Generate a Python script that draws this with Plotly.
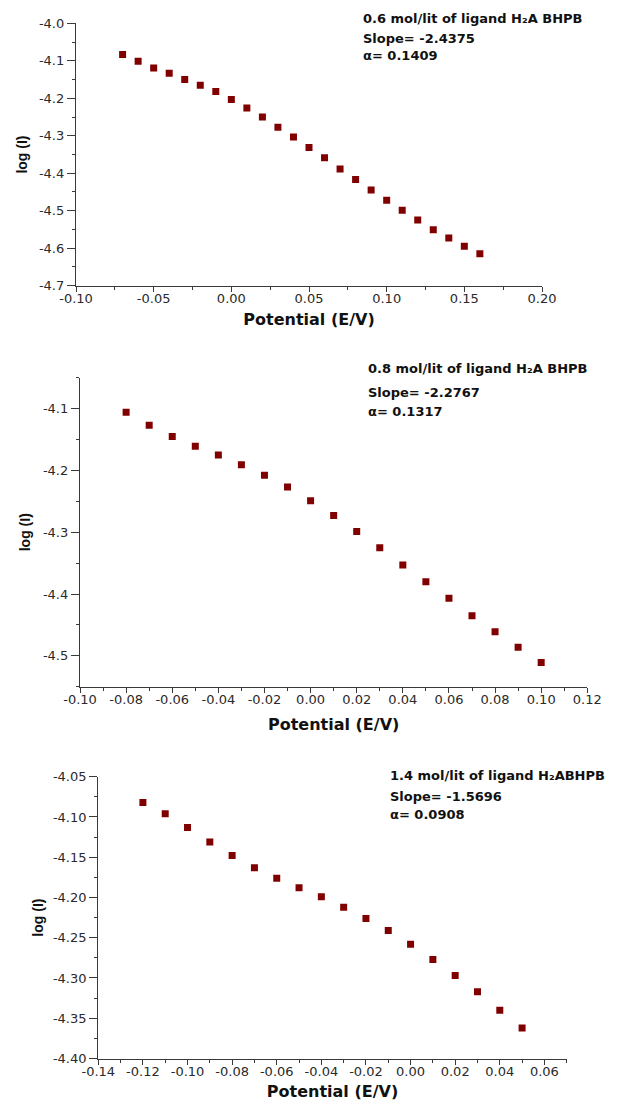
import plotly.graph_objects as go

W, H = 617, 1101
ML, MR, MT, MB = 10, 10, 10, 10

# ---------------- data ----------------
pot_06 = [-0.07, -0.06, -0.05, -0.04, -0.03, -0.02, -0.01, 0.00, 0.01, 0.02, 0.03, 0.04,
          0.05, 0.06, 0.07, 0.08, 0.09, 0.10, 0.11, 0.12, 0.13, 0.14, 0.15, 0.16]
logi_06 = [-4.083, -4.101, -4.119, -4.133, -4.150, -4.165, -4.182, -4.203, -4.226, -4.250,
           -4.277, -4.303, -4.331, -4.359, -4.389, -4.417, -4.445, -4.472, -4.499, -4.525,
           -4.551, -4.573, -4.595, -4.615]

pot_08 = [-0.08, -0.07, -0.06, -0.05, -0.04, -0.03, -0.02, -0.01, 0.00, 0.01, 0.02, 0.03,
          0.04, 0.05, 0.06, 0.07, 0.08, 0.09, 0.10]
logi_08 = [-4.106, -4.127, -4.145, -4.161, -4.175, -4.191, -4.208, -4.227, -4.249, -4.273,
           -4.299, -4.325, -4.353, -4.380, -4.407, -4.435, -4.461, -4.486, -4.511]

pot_14 = [-0.12, -0.11, -0.10, -0.09, -0.08, -0.07, -0.06, -0.05, -0.04, -0.03, -0.02, -0.01,
          0.00, 0.01, 0.02, 0.03, 0.04, 0.05]
logi_14 = [-4.082, -4.096, -4.113, -4.131, -4.148, -4.163, -4.176, -4.188, -4.199, -4.212,
           -4.226, -4.241, -4.258, -4.277, -4.297, -4.317, -4.340, -4.362]

labels = [
    ("0.6 mol/lit of ligand H₂A BHPB", "Slope= -2.4375", "α= 0.1409"),
    ("0.8 mol/lit of ligand H₂A BHPB", "Slope= -2.2767", "α= 0.1317"),
    ("1.4 mol/lit of ligand H₂ABHPB", "Slope= -1.5696", "α= 0.0908"),
]

x_ticks_1 = [-0.10, -0.05, 0.00, 0.05, 0.10, 0.15, 0.20]
x_text_1 = ["-0.10", "-0.05", "0.00", "0.05", "0.10", "0.15", "0.20"]
y_ticks_1 = [-4.0, -4.1, -4.2, -4.3, -4.4, -4.5, -4.6, -4.7]
y_text_1 = ["-4.0", "-4.1", "-4.2", "-4.3", "-4.4", "-4.5", "-4.6", "-4.7"]

x_ticks_2 = [-0.10, -0.08, -0.06, -0.04, -0.02, 0.00, 0.02, 0.04, 0.06, 0.08, 0.10, 0.12]
x_text_2 = ["-0.10", "-0.08", "-0.06", "-0.04", "-0.02", "0.00", "0.02", "0.04", "0.06",
            "0.08", "0.10", "0.12"]
y_ticks_2 = [-4.1, -4.2, -4.3, -4.4, -4.5]
y_text_2 = ["-4.1", "-4.2", "-4.3", "-4.4", "-4.5"]

x_ticks_3 = [-0.14, -0.12, -0.10, -0.08, -0.06, -0.04, -0.02, 0.00, 0.02, 0.04, 0.06]
x_text_3 = ["-0.14", "-0.12", "-0.10", "-0.08", "-0.06", "-0.04", "-0.02", "0.00", "0.02",
            "0.04", "0.06"]
y_ticks_3 = [-4.05, -4.10, -4.15, -4.20, -4.25, -4.30, -4.35, -4.40]
y_text_3 = ["-4.05", "-4.10", "-4.15", "-4.20", "-4.25", "-4.30", "-4.35", "-4.40"]

# ---------------- layout geometry (pixels) ----------------
panels = [
    dict(x=pot_06, y=logi_06, xr=[-0.10, 0.20], yr=[-4.7, -4.0], px=(76, 542), py=(23.3, 285.7),
         xt=(x_ticks_1, x_text_1, 0.025), yt=(y_ticks_1, y_text_1, 0.05),
         xts=8, yts=7, ann_x=361, ann_y=(18.3, 38.3, 55.0)),
    dict(x=pot_08, y=logi_08, xr=[-0.10, 0.12], yr=[-4.55, -4.05], px=(80, 587.3), py=(377.7, 686.7),
         xt=(x_ticks_2, x_text_2, 0.01), yt=(y_ticks_2, y_text_2, 0.05),
         xts=12, yts=8, ann_x=366, ann_y=(368.3, 392.3, 411.7)),
    dict(x=pot_14, y=logi_14, xr=[-0.14, 0.07], yr=[-4.40, -4.05], px=(98.3, 566.7), py=(776.7, 1058.5),
         xt=(x_ticks_3, x_text_3, 0.01), yt=(y_ticks_3, y_text_3, 0.025),
         xts=8, yts=6, ann_x=388, ann_y=(775.0, 796.0, 814.3)),
]

FONT = "DejaVu Sans, Arial, sans-serif"
FONT_Y = "Liberation Sans, Arial, sans-serif"
MARK = "#800000"
AX = "#3a3a3a"

PW, PH = W - ML - MR, H - MT - MB


def fx(px):
    return (px - ML) / PW


def fy(py):
    return 1 - (py - MT) / PH


fig = go.Figure()
layout = dict(
    width=W, height=H, margin=dict(l=ML, r=MR, t=MT, b=MB),
    paper_bgcolor="white", plot_bgcolor="white", showlegend=False,
    font=dict(family=FONT, size=12, color="#222222"),
)
annotations = []

for i, p in enumerate(panels, start=1):
    xa = "x" if i == 1 else f"x{i}"
    ya = "y" if i == 1 else f"y{i}"
    fig.add_trace(go.Scatter(
        x=p["x"], y=p["y"], mode="markers", xaxis=xa, yaxis=ya,
        marker=dict(symbol="square", size=7, color=MARK, line=dict(width=0)),
    ))
    xkey = "xaxis" if i == 1 else f"xaxis{i}"
    ykey = "yaxis" if i == 1 else f"yaxis{i}"
    xtv, xtt, xminor = p["xt"]
    ytv, ytt, yminor = p["yt"]
    layout[xkey] = dict(
        domain=[fx(p["px"][0]), fx(p["px"][1])], anchor=ya, range=p["xr"],
        showgrid=False, zeroline=False, automargin=False,
        showline=True, linecolor=AX, linewidth=1.3,
        ticks="outside", ticklen=5, tickwidth=1.2, tickcolor=AX,
        tickvals=xtv, ticktext=xtt, tickfont=dict(size=13, color="#2a2a2a", family=FONT),
        ticklabelstandoff=-4,
        minor=dict(ticks="outside", ticklen=3, dtick=xminor, tick0=0, tickcolor=AX, showgrid=False),
        title=dict(text="<b>Potential (E/V)</b>", font=dict(size=16, color="#111111", family=FONT),
                   standoff=p["xts"]),
    )
    layout[ykey] = dict(
        domain=[fy(p["py"][1]), fy(p["py"][0])], anchor=xa, range=p["yr"],
        showgrid=False, zeroline=False, automargin=False,
        showline=True, linecolor=AX, linewidth=1.3,
        ticks="outside", ticklen=8, tickwidth=1.2, tickcolor=AX,
        tickvals=ytv, ticktext=ytt, tickfont=dict(size=13, color="#2a2a2a", family=FONT),
        ticklabelstandoff=0,
        minor=dict(ticks="outside", ticklen=3, dtick=yminor, tick0=0, tickcolor=AX, showgrid=False),
        title=dict(text="<b>log (I)</b>", font=dict(size=14, color="#111111", family=FONT_Y),
                   standoff=p["yts"]),
    )
    for j, line in enumerate(labels[i - 1]):
        annotations.append(dict(
            xref="paper", yref="paper", x=fx(p["ann_x"]), y=fy(p["ann_y"][j]),
            xanchor="left", yanchor="middle", showarrow=False,
            text=f"<b>{line}</b>", font=dict(size=13, color="#111111", family=FONT),
        ))

layout["annotations"] = annotations
fig.update_layout(**layout)
fig.write_html("out.html", config={"displayModeBar": False},
               post_script="document.body.style.margin='0px';")
